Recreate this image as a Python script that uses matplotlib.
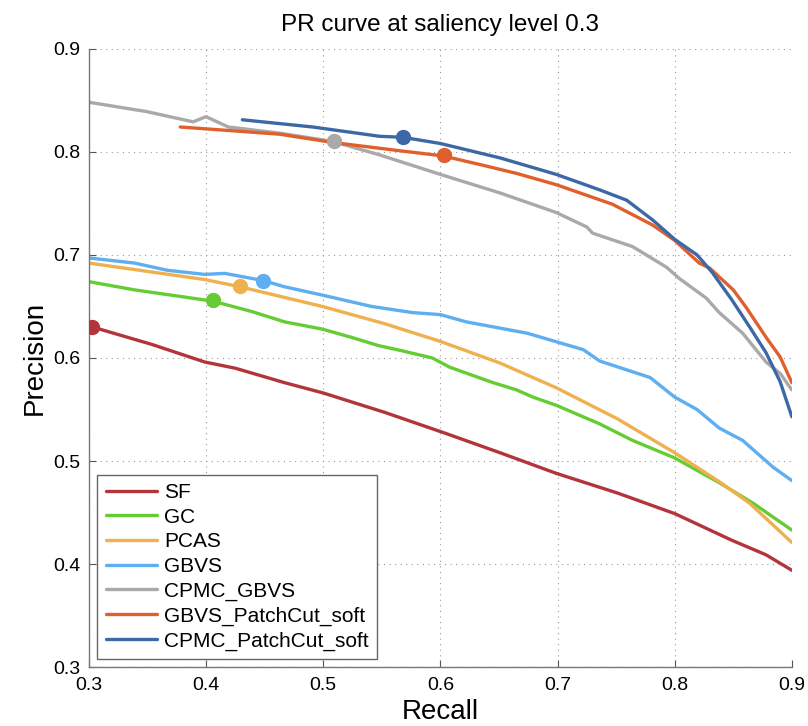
import matplotlib
matplotlib.use("Agg")
import matplotlib.pyplot as plt

plt.rcParams['font.family'] = ['Liberation Sans', 'DejaVu Sans']

# ---------------- data ----------------
names = ["SF", "GC", "PCAS", "GBVS", "CPMC_GBVS",
         "GBVS_PatchCut_soft", "CPMC_PatchCut_soft"]
colors = ["#b3343b", "#66cc33", "#eeb14e", "#5eaef0", "#a9a9a9",
          "#e0602d", "#3c68a6"]

sf_r = [0.303, 0.354, 0.399, 0.425, 0.467, 0.5, 0.553, 0.604, 0.651, 0.699,
        0.751, 0.8, 0.849, 0.878, 0.9]
sf_p = [0.630, 0.613, 0.596, 0.590, 0.576, 0.566, 0.547, 0.527, 0.508, 0.488,
        0.469, 0.449, 0.423, 0.409, 0.394]

gc_r = [0.3, 0.339, 0.382, 0.406, 0.439, 0.467, 0.499, 0.524, 0.547, 0.567,
        0.593, 0.608, 0.645, 0.665, 0.679, 0.699, 0.736, 0.764, 0.8, 0.838,
        0.867, 0.9]
gc_p = [0.674, 0.666, 0.659, 0.655, 0.645, 0.635, 0.628, 0.620, 0.612, 0.607,
        0.600, 0.591, 0.576, 0.569, 0.562, 0.554, 0.536, 0.520, 0.503, 0.479,
        0.459, 0.433]

pcas_r = [0.3, 0.399, 0.429, 0.499, 0.553, 0.6, 0.651, 0.699, 0.751, 0.8,
          0.838, 0.864, 0.9]
pcas_p = [0.692, 0.676, 0.669, 0.650, 0.633, 0.616, 0.595, 0.571, 0.541, 0.508,
          0.480, 0.459, 0.421]

gbvs_r = [0.3, 0.339, 0.367, 0.399, 0.416, 0.449, 0.467, 0.499, 0.541, 0.576,
          0.6, 0.622, 0.674, 0.722, 0.736, 0.779, 0.8, 0.819, 0.838, 0.858,
          0.884, 0.9]
gbvs_p = [0.697, 0.692, 0.685, 0.681, 0.682, 0.675, 0.669, 0.661, 0.650, 0.644,
          0.642, 0.635, 0.624, 0.608, 0.597, 0.581, 0.562, 0.550, 0.532, 0.520,
          0.494, 0.481]

cg_r = [0.3, 0.349, 0.389, 0.4, 0.419, 0.463, 0.508, 0.548, 0.6, 0.651, 0.699,
        0.725, 0.730, 0.764, 0.793, 0.804, 0.827, 0.838, 0.858, 0.878, 0.890,
        0.9]
cg_p = [0.848, 0.839, 0.829, 0.834, 0.824, 0.818, 0.810, 0.797, 0.778, 0.760,
        0.741, 0.727, 0.721, 0.708, 0.688, 0.677, 0.658, 0.644, 0.624, 0.596,
        0.585, 0.569]

gp_r = [0.378, 0.463, 0.508, 0.565, 0.602, 0.636, 0.665, 0.699, 0.747, 0.781,
        0.8, 0.821, 0.830, 0.850, 0.861, 0.878, 0.890, 0.9]
gp_p = [0.824, 0.817, 0.809, 0.801, 0.796, 0.787, 0.779, 0.768, 0.749, 0.729,
        0.714, 0.692, 0.687, 0.666, 0.649, 0.620, 0.601, 0.576]

cp_r = [0.431, 0.491, 0.548, 0.568, 0.6, 0.651, 0.699, 0.736, 0.759, 0.781,
        0.8, 0.819, 0.832, 0.849, 0.864, 0.878, 0.890, 0.9]
cp_p = [0.831, 0.824, 0.815, 0.814, 0.808, 0.794, 0.778, 0.763, 0.753, 0.734,
        0.715, 0.700, 0.683, 0.656, 0.630, 0.605, 0.577, 0.543]

recalls = [sf_r, gc_r, pcas_r, gbvs_r, cg_r, gp_r, cp_r]
precisions = [sf_p, gc_p, pcas_p, gbvs_p, cg_p, gp_p, cp_p]

# operating point marked on each curve
mark_r = [0.303, 0.406, 0.429, 0.449, 0.509, 0.603, 0.568]
mark_p = [0.630, 0.656, 0.670, 0.675, 0.810, 0.797, 0.814]

ticks = [0.3, 0.4, 0.5, 0.6, 0.7, 0.8, 0.9]
tick_labels = ["0.3", "0.4", "0.5", "0.6", "0.7", "0.8", "0.9"]

# ---------------- plot ----------------
fig = plt.figure(figsize=(8.08, 7.26), dpi=100)
ax = fig.add_axes([0.110, 0.081, 0.870, 0.852])

for i in range(len(names)):
    ax.plot(recalls[i], precisions[i], color=colors[i], lw=2.4,
            label=names[i], solid_capstyle='round')
for i in range(len(names)):
    ax.plot(mark_r[i], mark_p[i], 'o', color=colors[i], ms=10, zorder=5)

ax.set_xlim(0.3, 0.9)
ax.set_ylim(0.3, 0.9)
ax.set_xticks(ticks)
ax.set_xticklabels(tick_labels)
ax.set_yticks(ticks)
ax.set_yticklabels(tick_labels)
ax.tick_params(direction='in', length=5, labelsize=14, color='#555555')
ax.tick_params(axis='x', pad=7)
ax.tick_params(axis='y', pad=6)
ax.grid(True, linestyle=(0, (1, 4)), color='#999999', lw=0.8)

for s in ['top', 'right']:
    ax.spines[s].set_visible(False)
for s in ['left', 'bottom']:
    ax.spines[s].set_color('#777777')
    ax.spines[s].set_linewidth(1.0)

ax.set_title("PR curve at saliency level 0.3", fontsize=17.5, pad=13)
ax.set_xlabel("Recall", fontsize=20, labelpad=4)
ax.set_ylabel("Precision", fontsize=20, labelpad=4)

leg = ax.legend(loc='lower left', fontsize=15, fancybox=False,
                edgecolor='#666666', framealpha=1, handlelength=2.45,
                handletextpad=0.35, borderaxespad=0.4, labelspacing=0.27)
leg.get_frame().set_linewidth(1.0)

fig.savefig("out.png", dpi=100)
